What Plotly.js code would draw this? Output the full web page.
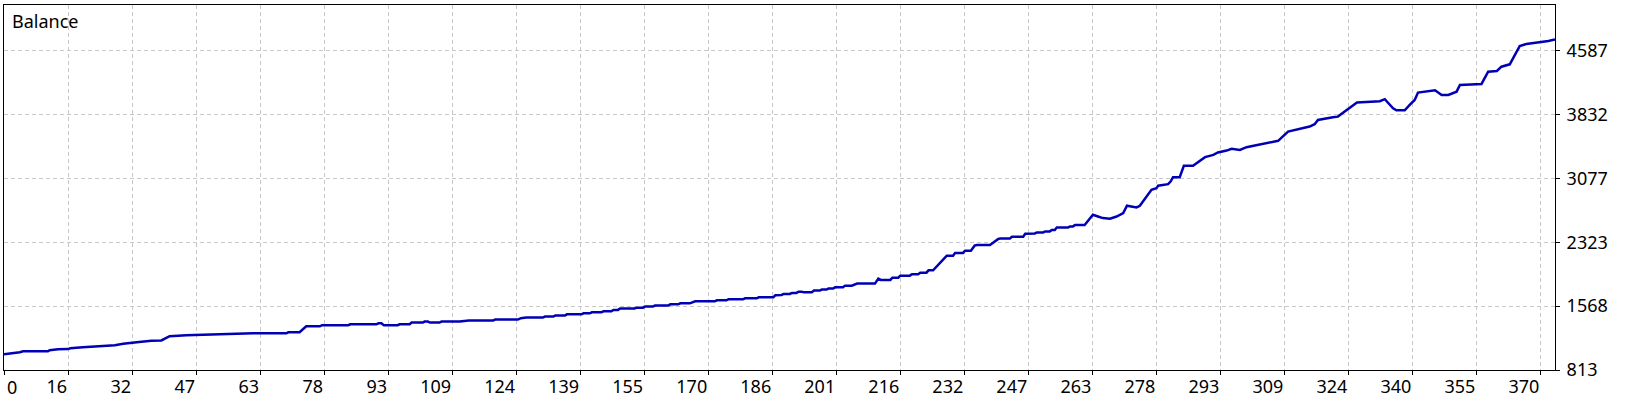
<!DOCTYPE html>
<html>
<head>
<meta charset="utf-8">
<script src="https://cdn.plot.ly/plotly-3.0.1.min.js"></script>
<style>
html,body{margin:0;padding:0;background:#fff;}
#chart{width:1640px;height:400px;}
</style>
</head>
<body>
<div id="chart"></div>
<script>
// Trade number (x) and account balance (y)
const trade = [
0,2.5,3.8,4.6,10.6,11,13,15.4,16,19,22.6,26.7,28.7,31.9,33.1,35.5,37.9,39.9,43.9,52,60,
68,68.5,71.2,72.8,76.1,76.6,82.9,83.4,89.7,90.2,90.9,91.5,94.8,95.3,97.7,98.2,100.9,101.3,102.1,102.6,104.9,105.4,109.8,110.3,112,117.8,118.3,123.8,
124.5,125.8,129.8,130.3,132.3,132.8,135.1,135.6,139.1,139.6,141.1,141.6,143.9,144.4,146.3,146.8,147.9,148.4,151.9,152.4,153.9,154.4,156.3,156.8,160,160.5,162.4,162.9,165.2,165.8,166.5,171.2,171.7,174,174.5,178,178.5,181.3,181.8,185.3,185.8,187.3,
187.8,189.3,189.8,190.9,191.4,192.1,192.6,194.6,195.1,196.5,197,198.1,198.6,199.7,200.2,202.1,202.6,204.2,204.7,205.5,209.8,210.6,211.2,213.5,214,215.4,215.9,218.2,218.7,220.2,220.7,222.2,222.7,223.8,226.6,227.1,228.6,229.1,231,231.5,232.9,233.8,234.3,237.5,239.5,240,242.3,242.8,245.5,246,
248.3,248.8,250.3,250.8,251.9,252.4,253.1,253.6,256.3,256.8,257.5,258,260.3,262.3,263.5,264.7,266.4,268,269.6,270.5,272.8,273.6,276.4,277.6,278,280.4,281,281.6,283.2,284.2,286.4,288,289.3,291.3,292.4,294.5,295.7,297.7,299.3,301.3,304.1,306.9,309.3,312.9,314.5,315.7,316.5,320.1,321.3,
325.9,331.4,332.6,333.8,334.6,335.4,337.4,338.6,339.8,340.6,344.2,344.7,346.3,347.9,349.9,350.7,355.9,357.5,359.6,360.7,362.7,365.1,366.7,369.5,372,373.6
];
const balance = [
1000,1011,1023,1035,1035,1047,1058,1060,1070,1082,1094,1106,1122,1134,1146,1158,1162,1212,1224,1235,1247,
1247,1259,1259,1330,1330,1342,1342,1353,1353,1365,1365,1342,1342,1353,1353,1373,1373,1385,1385,1373,1373,1385,1385,1390,1397,1397,1409,1409,
1425,1432,1432,1444,1444,1456,1456,1471,1471,1483,1483,1495,1495,1507,1507,1523,1523,1539,1539,1550,1550,1562,1562,1574,1574,1589,1589,1601,1601,1613,1625,1625,1637,1637,1648,1648,1660,1660,1672,1672,1696,1700,
1712,1712,1724,1724,1739,1739,1731,1731,1751,1751,1763,1763,1775,1775,1790,1790,1810,1810,1822,1834,1834,1893,1877,1877,1904,1904,1928,1928,1944,1944,1963,1963,1991,1991,2137,2164,2164,2196,2196,2223,2223,2282,2290,2290,2361,2368,2368,2388,2388,2423,
2427,2439,2439,2451,2451,2467,2467,2498,2498,2510,2510,2526,2526,2647,2627,2608,2600,2627,2667,2754,2734,2754,2942,2962,2990,3009,3040,3092,3092,3226,3226,3285,3328,3355,3383,3406,3426,3414,3446,3465,3489,3521,3630,3670,3690,3718,3768,3800,3807,
3975,3990,4013,3945,3906,3882,3882,3945,4004,4091,4110,4118,4063,4063,4102,4181,4193,4338,4346,4397,4425,4641,4665,4681,4700,4720
];
// Axis tick labels as printed on the reference
const xTickLabels = ["0","16","32","47","63","78","93","109","124","139","155","170","186","201","216","232","247","263","278","293","309","324","340","355","370"];
const yTickValues = [813,1568,2323,3077,3832,4587];
const seriesName = "Balance";

const xStep = 15.42;
const xMax = 373.6;
const yMin = 813, yMax = 5126;

const fontFam = "'Noto Sans', 'Liberation Sans', sans-serif";
const fs = 18;
const xTickVals = xTickLabels.map((t, i) => i * xStep);
const xTickText = xTickLabels.map((t, i) => i === 0 ? "" : t);

const trace = {
  x: trade, y: balance, type: 'scatter', mode: 'lines',
  line: {color: '#0000b4', width: 2.5},
  hoverinfo: 'skip'
};

const layout = {
  width: 1640, height: 400,
  margin: {l: 4, r: 85, t: 5, b: 30, pad: 0},
  paper_bgcolor: '#ffffff', plot_bgcolor: '#ffffff',
  showlegend: false,
  font: {family: fontFam, size: fs, color: '#000'},
  xaxis: {
    range: [0, xMax], fixedrange: true,
    tickmode: 'array', tickvals: xTickVals, ticktext: xTickText,
    ticks: 'outside', ticklen: 4, tickcolor: '#000', tickwidth: 1,
    ticklabelposition: 'outside left',
    showgrid: true, gridcolor: '#c8c8c8', griddash: '4px,3px', gridwidth: 1,
    showline: true, linecolor: '#000', linewidth: 1, mirror: true,
    zeroline: false,
    tickfont: {family: fontFam, size: fs, color: '#000'}
  },
  yaxis: {
    range: [yMin, yMax], fixedrange: true, side: 'right',
    tickmode: 'array', tickvals: yTickValues, ticktext: yTickValues.map(String),
    ticks: 'outside', ticklen: 4, tickcolor: '#000', tickwidth: 1,
    ticklabelstandoff: 3,
    showgrid: true, gridcolor: '#c8c8c8', griddash: '4px,3px', gridwidth: 1,
    showline: true, linecolor: '#000', linewidth: 1, mirror: true,
    zeroline: false,
    tickfont: {family: fontFam, size: fs, color: '#000'}
  },
  annotations: [
    {text: seriesName, xref: 'paper', yref: 'paper', x: 0, y: 1,
     xanchor: 'left', yanchor: 'top', xshift: 6, yshift: -2, showarrow: false,
     font: {family: fontFam, size: fs, color: '#000'}},
    {text: xTickLabels[0], xref: 'x', yref: 'paper', x: 0, y: 0,
     xanchor: 'left', yanchor: 'top', xshift: 1, yshift: -3, showarrow: false,
     font: {family: fontFam, size: fs, color: '#000'}}
  ]
};

Plotly.newPlot('chart', [trace], layout, {displayModeBar: false, staticPlot: true});
</script>
</body>
</html>
